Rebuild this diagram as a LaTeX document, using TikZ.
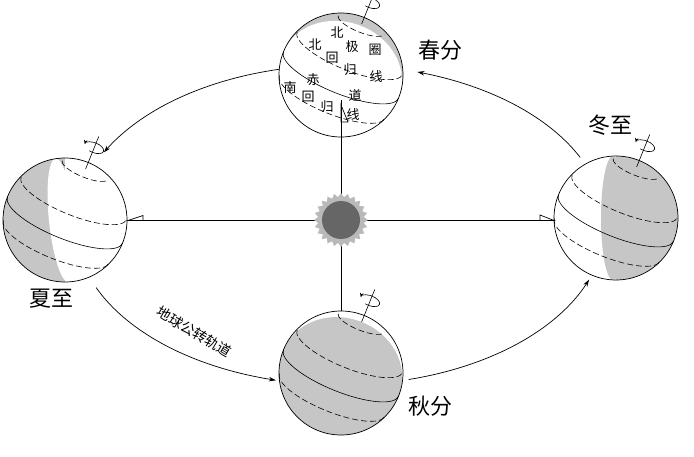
\documentclass[tikz,border=0pt]{standalone}
\usepackage{fontspec}
\setmainfont{Noto Sans CJK SC}
\usetikzlibrary{arrows.meta}
\tikzset{
  orbit/.style={line width=0.7pt,-{Stealth[length=7pt,width=4.5pt]}},
  lat/.style={line width=0.6pt,dash pattern=on 6pt off 3pt},
  eq/.style={line width=0.6pt},
  shade/.style={fill=gray!45},
  big/.style={font=\fontsize{22}{22}\selectfont},
  small/.style={font=\fontsize{13}{13}\selectfont,inner sep=0pt},
  tracktext/.style={font=\fontsize{14}{14}\selectfont,inner sep=0pt}
}
\newcommand\globelines{%
  \begin{scope}[rotate=-22]
    \draw[lat] (-24.7,54) arc[start angle=180,end angle=360,x radius=24.7,y radius=7.4];
    \draw[lat] (-56.9,23.5) arc[start angle=180,end angle=360,x radius=56.9,y radius=17];
    \draw[eq] (-62,0) arc[start angle=180,end angle=360,x radius=62,y radius=18.6];
    \draw[lat] (-56.9,-23.5) arc[start angle=180,end angle=360,x radius=56.9,y radius=17];
  \end{scope}}
\newcommand\globeaxis{%
  \begin{scope}[rotate=-22]
    \draw[line width=0.6pt] (0,55) -- (0,90);
    \draw[line width=0.6pt,-{Stealth[length=4.5pt,width=3.5pt]}] (0,78) ++(250:10 and 5) arc[start angle=250,end angle=545,x radius=10,y radius=5];
  \end{scope}}
\begin{document}
\begin{tikzpicture}[x=1pt,y=1pt]
\useasboundingbox (0,0) rectangle (694,456);
% orbit arcs
\draw[orbit] plot[domain=25:73,samples=40] ({340+265*cos(\x)},{231+160*sin(\x)});
\draw[orbit] plot[domain=103:153,samples=40] ({340+265*cos(\x)},{231+160*sin(\x)});
\draw[orbit] plot[domain=203:256,samples=40] ({340+265*cos(\x)},{231+160*sin(\x)});
\draw[orbit] plot[domain=285:340,samples=40] ({340+265*cos(\x)},{231+160*sin(\x)});
\node[tracktext,rotate=-31] (track) at (194,124) {地球公转轨道};
% summer globe (lit right)
\begin{scope}[shift={(65,236)}]
  \begin{scope}
    \clip (0,0) circle (62);
    \fill[shade] (0,0) circle (62);
    \fill[white] (0,-62) rectangle (62,62);
    \fill[white,rotate=6] (-3,0) ellipse (13 and 62);
  \end{scope}
  \globelines
  \draw[line width=0.7pt] (0,0) circle (62);
  \globeaxis
\end{scope}
% winter globe (lit left, gray right)
\begin{scope}[shift={(616,238)}]
  \begin{scope}
    \clip (0,0) circle (62);
    \fill[white] (0,0) circle (62);
    \fill[shade] (0,-62) rectangle (62,62);
    \fill[shade] (-3,0) ellipse (12 and 62);
  \end{scope}
  \globelines
  \draw[line width=0.7pt] (0,0) circle (62);
  \globeaxis
\end{scope}
% spring globe (lit below)
\begin{scope}[shift={(341,381)}]
  \begin{scope}
    \clip (0,0) circle (62);
    \fill[shade] (0,0) circle (62);
    \begin{scope}[rotate=-20]
      \fill[white] (-62,-62) rectangle (62,0);
      \fill[white] (0,0) ellipse (62 and 53);
    \end{scope}
  \end{scope}
  \globelines
  \draw[line width=0.7pt] (0,0) circle (62);
  \globeaxis
\end{scope}
% autumn globe (lit above)
\begin{scope}[shift={(341,83)}]
  \begin{scope}
    \clip (0,0) circle (62);
    \fill[white] (0,0) circle (62);
    \begin{scope}[rotate=-20]
      \fill[shade] (-62,-62) rectangle (62,0);
      \fill[shade] (0,0) ellipse (62 and 55);
    \end{scope}
  \end{scope}
  \globelines
  \draw[line width=0.7pt] (0,0) circle (62);
  \globeaxis
\end{scope}
% spring globe texts
\begin{scope}[small]
\node (t1) at (337,423) {北};
\node (t2) at (352,409) {极};
\node (t3) at (375,406) {圈};
\node (t4) at (315,411) {北};
\node (t5) at (332,398) {回};
\node (t6) at (350,386) {归};
\node (t7) at (376,379) {线};
\node (t8) at (313,376) {赤};
\node (t9) at (355,361) {道};
\node (t10) at (290,368) {南};
\node (t11) at (308,359) {回};
\node (t12) at (327,349) {归};
\node (t13) at (353,341) {线};
\end{scope}
% season labels
\node[big] (spring) at (440,406) {春分};
\node[big] (winter) at (610,331) {冬至};
\node[big] (summer) at (52,157) {夏至};
\node[big] (autumn) at (430,50) {秋分};
% connectors
\coordinate (sumE) at (127,236);
\coordinate (winW) at (554,236);
\coordinate (sprIn) at (341,356);
\coordinate (autN) at (341,145);
\draw[line width=0.8pt] (sumE) -- (winW);
\draw[line width=0.8pt] (sprIn) -- (autN);
\draw[line width=0.7pt] (128,235.5) -- (143,235.5) -- (143,240.5) -- cycle;
\draw[line width=0.7pt] (540,235.5) -- (554,235.5) -- (540,241) -- cycle;
\draw[line width=0.7pt] (341,351) -- (341,334) -- (348,334) -- cycle;
% sun
\begin{scope}[shift={(341,236)}]
\fill[gray!55] (0:27) \foreach \i in {1,...,47}{ -- ({\i*7.5}:{27-4*isodd(\i)})} -- cycle;
\fill[black!60] (0,0) circle (19);
\end{scope}
\end{tikzpicture}
\end{document}
